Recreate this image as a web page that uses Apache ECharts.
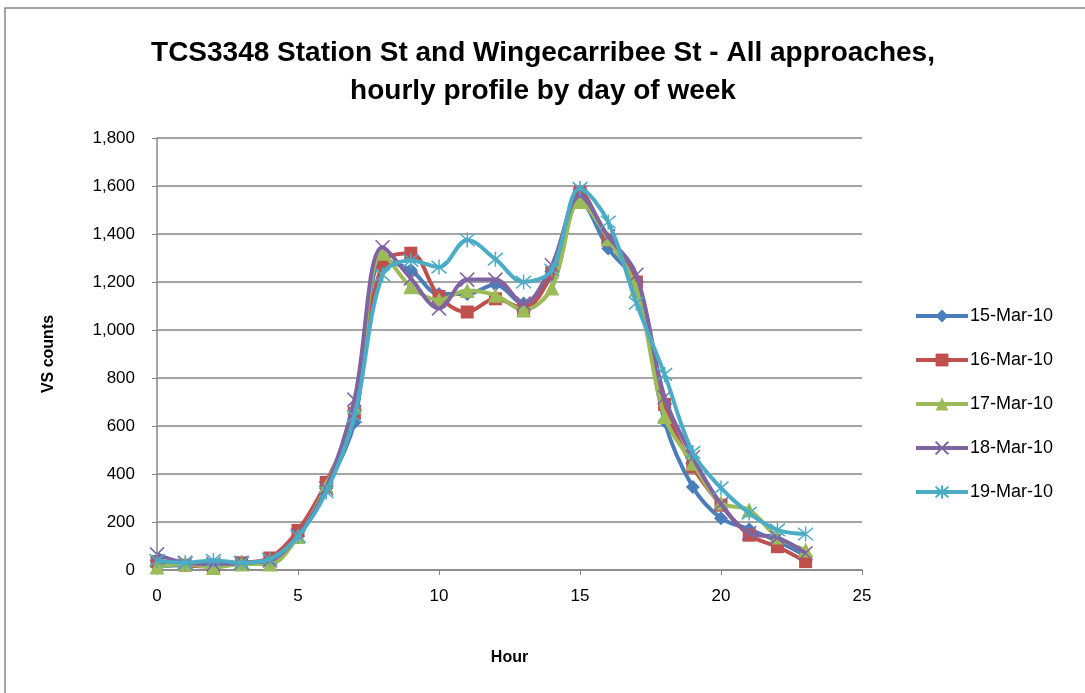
<!DOCTYPE html>
<html>
<head>
<meta charset="utf-8">
<script src="https://cdn.jsdelivr.net/npm/echarts@6/dist/echarts.min.js"></script>
<style>
  html, body { margin: 0; padding: 0; background: #fff; }
  #chart { width: 1085px; height: 693px; }
</style>
</head>
<body>
<div id="chart"></div>
<script>
  const hours = [0,1,2,3,4,5,6,7,8,9,10,11,12,13,14,15,16,17,18,19,20,21,22,23]
  const seriesNames = ['15-Mar-10', '16-Mar-10', '17-Mar-10', '18-Mar-10', '19-Mar-10']
  const mar15 = [15,20,20,25,40,140,340,615,1290,1250,1150,1150,1190,1110,1230,1540,1340,1190,620,346,216,170,120,60]
  const mar16 = [35,20,15,30,50,165,365,653,1280,1320,1140,1075,1130,1090,1240,1575,1375,1200,690,430,270,145,97,35]
  const mar17 = [12,25,10,25,25,140,350,680,1320,1180,1125,1165,1145,1083,1175,1535,1380,1170,640,445,280,250,137,83]
  const mar18 = [65,30,25,30,40,145,340,710,1345,1215,1090,1210,1210,1110,1270,1560,1390,1230,720,470,275,154,135,70]
  const mar19 = [40,30,40,30,45,140,325,640,1230,1290,1262,1375,1295,1200,1250,1590,1450,1112,815,490,342,237,167,150]
  const yTicks = [0, 200, 400, 600, 800, 1000, 1200, 1400, 1600, 1800]

  const colors = ['#4A7EBB', '#C0504D', '#9BBB59', '#8064A2', '#4BACC6']
  const symbols = [
    'diamond',
    'rect',
    'triangle',
    'path://M0 0 L10 10 M10 0 L0 10',
    'path://M0 0 L10 10 M10 0 L0 10 M5 -1 L5 11'
  ]
  const symbolSizes = [14, 13, 15, 14, 15]
  const allData = [mar15, mar16, mar17, mar18, mar19]

  const chart = echarts.init(document.getElementById('chart'))
  const font = 'Liberation Sans, Arial, sans-serif'

  const series = allData.map(function (vals, i) {
    const stroked = i >= 3
    return {
      name: seriesNames[i],
      type: 'line',
      smooth: 0.35,
      data: vals.map(function (v, k) { return [hours[k], v] }),
      symbol: symbols[i],
      symbolSize: symbolSizes[i],
      showAllSymbol: true,
      lineStyle: { color: colors[i], width: 4 },
      itemStyle: stroked
        ? { color: colors[i], borderColor: colors[i], borderWidth: 1.5 }
        : { color: colors[i] },
      emphasis: { disabled: true },
      z: 2 + i
    }
  })

  const option = {
    animation: false,
    backgroundColor: '#fff',
    color: colors,
    title: {
      text: 'TCS3348 Station St and Wingecarribee St - All approaches,\nhourly profile by day of week',
      left: 538,
      textAlign: 'center',
      top: 29,
      textStyle: {
        fontFamily: font,
        fontSize: 28,
        fontWeight: 'bold',
        color: '#000',
        lineHeight: 38
      }
    },
    legend: {
      orient: 'vertical',
      left: 909,
      top: 302,
      itemGap: 26,
      itemWidth: 52,
      itemHeight: 16,
      lineStyle: { width: 4 },
      textStyle: { fontFamily: font, fontSize: 18, color: '#000', padding: [0, 0, 0, -3] },
      data: seriesNames
    },
    grid: {
      left: 157,
      right: 223,
      top: 138,
      bottom: 123,
      containLabel: false
    },
    xAxis: {
      type: 'value',
      min: 0,
      max: 25,
      interval: 5,
      name: 'Hour',
      nameLocation: 'middle',
      nameGap: 80,
      nameTextStyle: { fontFamily: font, fontSize: 16, fontWeight: 'bold', color: '#000' },
      axisLine: { show: true, lineStyle: { color: '#868686', width: 1.5 } },
      axisTick: { show: true, length: 5, lineStyle: { color: '#868686' } },
      axisLabel: { fontFamily: font, fontSize: 17, color: '#000', margin: 18 },
      splitLine: { show: false }
    },
    yAxis: {
      type: 'value',
      min: yTicks[0],
      max: yTicks[yTicks.length - 1],
      interval: 200,
      name: 'VS counts',
      nameLocation: 'middle',
      nameGap: 100,
      nameRotate: 90,
      nameTextStyle: { fontFamily: font, fontSize: 16, fontWeight: 'bold', color: '#000' },
      axisLine: { show: true, lineStyle: { color: '#868686', width: 1.5 } },
      axisTick: { show: true, length: 5, lineStyle: { color: '#868686' } },
      axisLabel: {
        fontFamily: font,
        fontSize: 17,
        color: '#000',
        margin: 22,
        formatter: function (v) { return v.toLocaleString('en-US') }
      },
      splitLine: { show: true, lineStyle: { color: '#868686', width: 1.5 } }
    },
    graphic: [{
      type: 'rect',
      shape: { x: 5, y: 8, width: 1100, height: 700 },
      style: { fill: 'none', stroke: '#868686', lineWidth: 1.5 },
      silent: true,
      z: -1
    }],
    series: series
  }

  chart.setOption(option)
</script>
</body>
</html>
